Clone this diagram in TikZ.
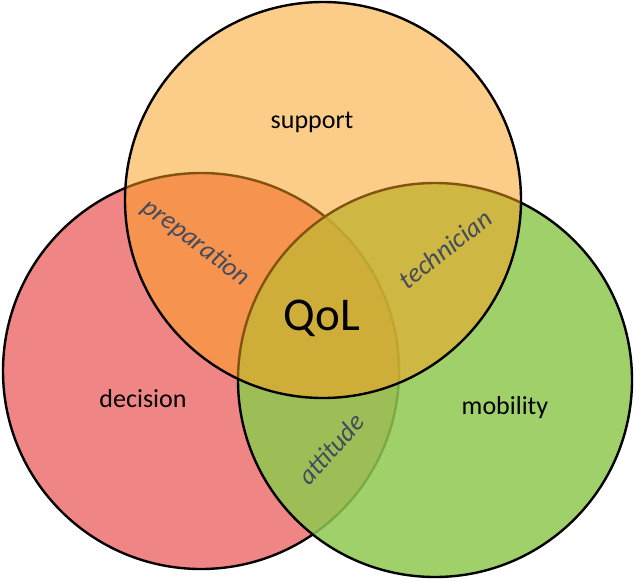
\documentclass[tikz,border=0pt]{standalone}
\usepackage{fontspec}
\setmainfont{Carlito}
\definecolor{cred}{RGB}{240,133,133}
\definecolor{cgreen}{RGB}{143,200,80}
\definecolor{corange}{RGB}{251,161,30}
\definecolor{lblgray}{RGB}{68,76,92}
\tikzset{
  circ/.style={draw=black, line width=2.4pt},
  mainlbl/.style={anchor=base, font=\fontsize{26}{30}\selectfont, text=black, inner sep=0pt},
  sublbl/.style={font=\fontsize{26.5}{30}\selectfont\itshape, text=lblgray, inner sep=0pt},
}
\begin{document}
\begin{tikzpicture}[x=1pt,y=-1pt]
\useasboundingbox (0,0) rectangle (636,581);
\fill[white] (0,0) rectangle (636,581);
% left (decision)
\path[circ, fill=cred] (201,371) circle[radius=198];
% right (mobility)
\path[circ, fill=cgreen, fill opacity=0.85] (435,380) circle[radius=197];
% top (support)
\path[circ, fill=corange, fill opacity=0.52] (323,200) circle[radius=198];
% labels
\node[mainlbl] (support) at (312,128) {support};
\node[mainlbl] (decision) at (143,407) {decision};
\node[mainlbl] (mobility) at (505,414) {mobility};
\node[mainlbl, font=\fontsize{47}{50}\selectfont] (qol) at (322,330) {QoL};
\node[sublbl, rotate=-37] (prep) at (196,243) {preparation};
\node[sublbl, rotate=38] (tech) at (445,249) {technician};
\node[sublbl, rotate=48] (att) at (331,449) {attitude};
\end{tikzpicture}
\end{document}
